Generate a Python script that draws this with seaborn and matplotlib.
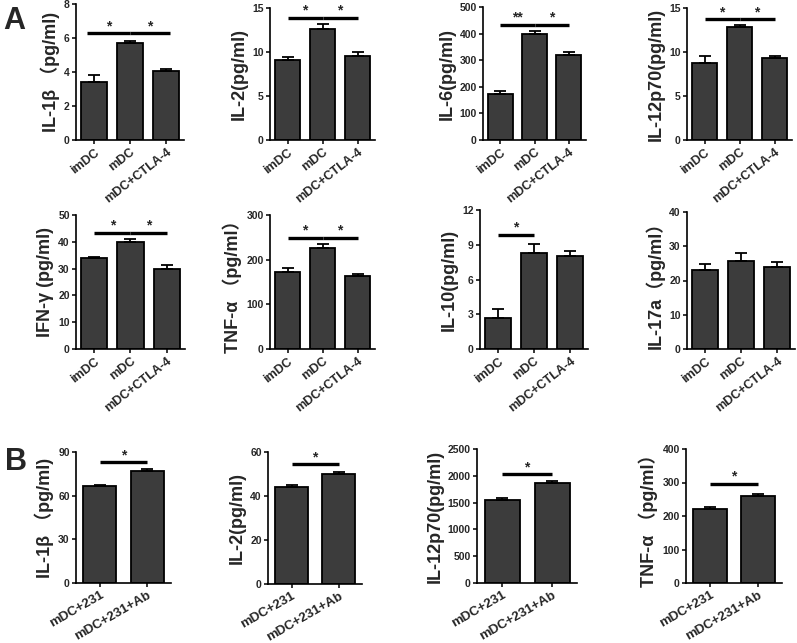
import numpy as np
import pandas as pd
import matplotlib
matplotlib.use("Agg")
import matplotlib.pyplot as plt
import seaborn as sns

sns.set_theme(style="ticks")
plt.rcParams["font.family"] = ["Liberation Sans", "Noto Sans CJK SC", "DejaVu Sans"]
plt.rcParams["font.weight"] = "bold"

groups_a = ["imDC", "mDC", "mDC+CTLA-4"]
groups_b = ["mDC+231", "mDC+231+Ab"]

il1b_a = [3.43, 5.69, 4.08]
il1b_a_err = [0.37, 0.15, 0.12]
il2_a = [9.06, 12.6, 9.5]
il2_a_err = [0.35, 0.55, 0.5]
il6_a = [173, 397, 320]
il6_a_err = [12, 14, 11]
il12_a = [8.8, 12.8, 9.36]
il12_a_err = [0.8, 0.3, 0.15]
ifng_a = [34.1, 40.0, 30.0]
ifng_a_err = [0.4, 1.0, 1.2]
tnfa_a = [172, 227, 163]
tnfa_a_err = [9, 8, 4]
il10_a = [2.68, 8.3, 8.0]
il10_a_err = [0.75, 0.75, 0.45]
il17a_a = [23.0, 25.6, 23.8]
il17a_a_err = [1.95, 2.45, 1.7]

il1b_b = [66.4, 76.9]
il1b_b_err = [1.1, 1.6]
il2_b = [44.3, 50.1]
il2_b_err = [0.7, 0.7]
il12_b = [1550, 1869]
il12_b_err = [37, 37]
tnfa_b = [220, 261]
tnfa_b_err = [8, 6]

W, H = 797, 643
fig = plt.figure(figsize=(W / 100, H / 100), dpi=100)

BAR = "#3c3c3c"


def panel(x0, x1, ytop, ybot, groups, vals, errs, label, ymax, ticks, sigs,
          width, rot, xfs):
    ax = fig.add_axes([x0 / W, 1 - ybot / H, (x1 - x0) / W, (ybot - ytop) / H])
    df = pd.DataFrame({"g": groups, "v": vals})
    sns.barplot(data=df, x="g", y="v", ax=ax, color=BAR, saturation=1,
                edgecolor="black", linewidth=1.3, width=width, errorbar=None)
    xs = np.arange(len(groups))
    ax.errorbar(xs, vals, yerr=[np.zeros(len(vals)), errs], fmt="none",
                ecolor="black", elinewidth=1.3, capsize=4, capthick=1.3, zorder=1)
    ax.set_xlim(-0.5, len(groups) - 0.5)
    ax.set_ylim(0, ymax)
    ax.set_yticks(ticks)
    ax.set_yticklabels([str(t) for t in ticks], fontsize=7.5, fontweight="bold")
    ax.set_xticks(xs)
    ax.set_xticklabels(groups, rotation=rot, ha="right", rotation_mode="anchor",
                       fontsize=xfs, fontweight="bold")
    ax.set_xlabel("")
    ax.set_ylabel(label, fontsize=13, fontweight="bold", labelpad=3)
    for s in ["top", "right"]:
        ax.spines[s].set_visible(False)
    for s in ["left", "bottom"]:
        ax.spines[s].set_linewidth(1.2)
        ax.spines[s].set_color("black")
    ax.tick_params(axis="both", length=3, width=1.1, pad=1.5, color="black")
    for (i, j, txt, yv) in sigs:
        ax.plot([i, j], [yv, yv], color="black", lw=2.4, solid_capstyle="butt",
                clip_on=False)
        ax.text((i + j) / 2, yv, txt, ha="center", va="bottom", fontsize=10,
                fontweight="bold")
    return ax


RA, FA = 38, 9
RB, FB = 30, 9.5

# Row A1
panel(76, 184, 4, 140, groups_a, il1b_a, il1b_a_err, "IL-1β （pg/ml)", 8,
      [0, 2, 4, 6, 8], [(-0.2, 1, "*", 6.27), (1, 2.1, "*", 6.27)], 0.72, RA, FA)
panel(270, 375, 8, 140, groups_a, il2_a, il2_a_err, "IL-2(pg/ml)", 15,
      [0, 5, 10, 15], [(0, 1, "*", 13.9), (1, 2, "*", 13.9)], 0.72, RA, FA)
panel(483, 586, 7, 140, groups_a, il6_a, il6_a_err, "IL-6(pg/ml)", 500,
      [0, 100, 200, 300, 400, 500], [(0, 1, "**", 433), (1, 2, "*", 433)], 0.72, RA, FA)
panel(687, 792, 8, 140, groups_a, il12_a, il12_a_err, "IL-12p70(pg/ml)", 15,
      [0, 5, 10, 15], [(0, 1, "*", 13.75), (1, 2, "*", 13.75)], 0.72, RA, FA)

# Row A2
panel(76, 185, 215, 349, groups_a, ifng_a, ifng_a_err, "IFN-γ (pg/ml)", 50,
      [0, 10, 20, 30, 40, 50], [(0, 1, "*", 43.4), (1, 2, "*", 43.4)], 0.72, RA, FA)
panel(270, 375, 215, 349, groups_a, tnfa_a, tnfa_a_err, "TNF-α （pg/ml）", 300,
      [0, 100, 200, 300], [(0, 1, "*", 249), (1, 2, "*", 249)], 0.72, RA, FA)
panel(480, 588, 210, 349, groups_a, il10_a, il10_a_err, "IL-10(pg/ml)", 12,
      [0, 3, 6, 9, 12], [(0, 1, "*", 9.86)], 0.72, RA, FA)
panel(687, 795, 212, 349, groups_a, il17a_a, il17a_a_err, "IL-17a（pg/ml）", 40,
      [0, 10, 20, 30, 40], [], 0.72, RA, FA)

# Row B
panel(76, 171, 452, 583, groups_b, il1b_b, il1b_b_err, "IL-1β （pg/ml)", 90,
      [0, 30, 60, 90], [(0, 1, "*", 83)], 0.7, RB, FB)
panel(268, 362, 452, 584, groups_b, il2_b, il2_b_err, "IL-2(pg/ml)", 60,
      [0, 20, 40, 60], [(0, 1, "*", 54.5)], 0.7, RB, FB)
panel(477, 577, 449, 583, groups_b, il12_b, il12_b_err, "IL-12p70(pg/ml)", 2500,
      [0, 500, 1000, 1500, 2000, 2500], [(0, 1, "*", 2031)], 0.7, RB, FB)
panel(686, 782, 449, 583, groups_b, tnfa_b, tnfa_b_err, "TNF-α （pg/ml）", 400,
      [0, 100, 200, 300, 400], [(0, 1, "*", 296)], 0.7, RB, FB)

fig.text(3 / W, 1 - 29 / H, "A", fontsize=22, fontweight="bold")
fig.text(5 / W, 1 - 470 / H, "B", fontsize=22, fontweight="bold")

fig.savefig("out.png", dpi=100)
